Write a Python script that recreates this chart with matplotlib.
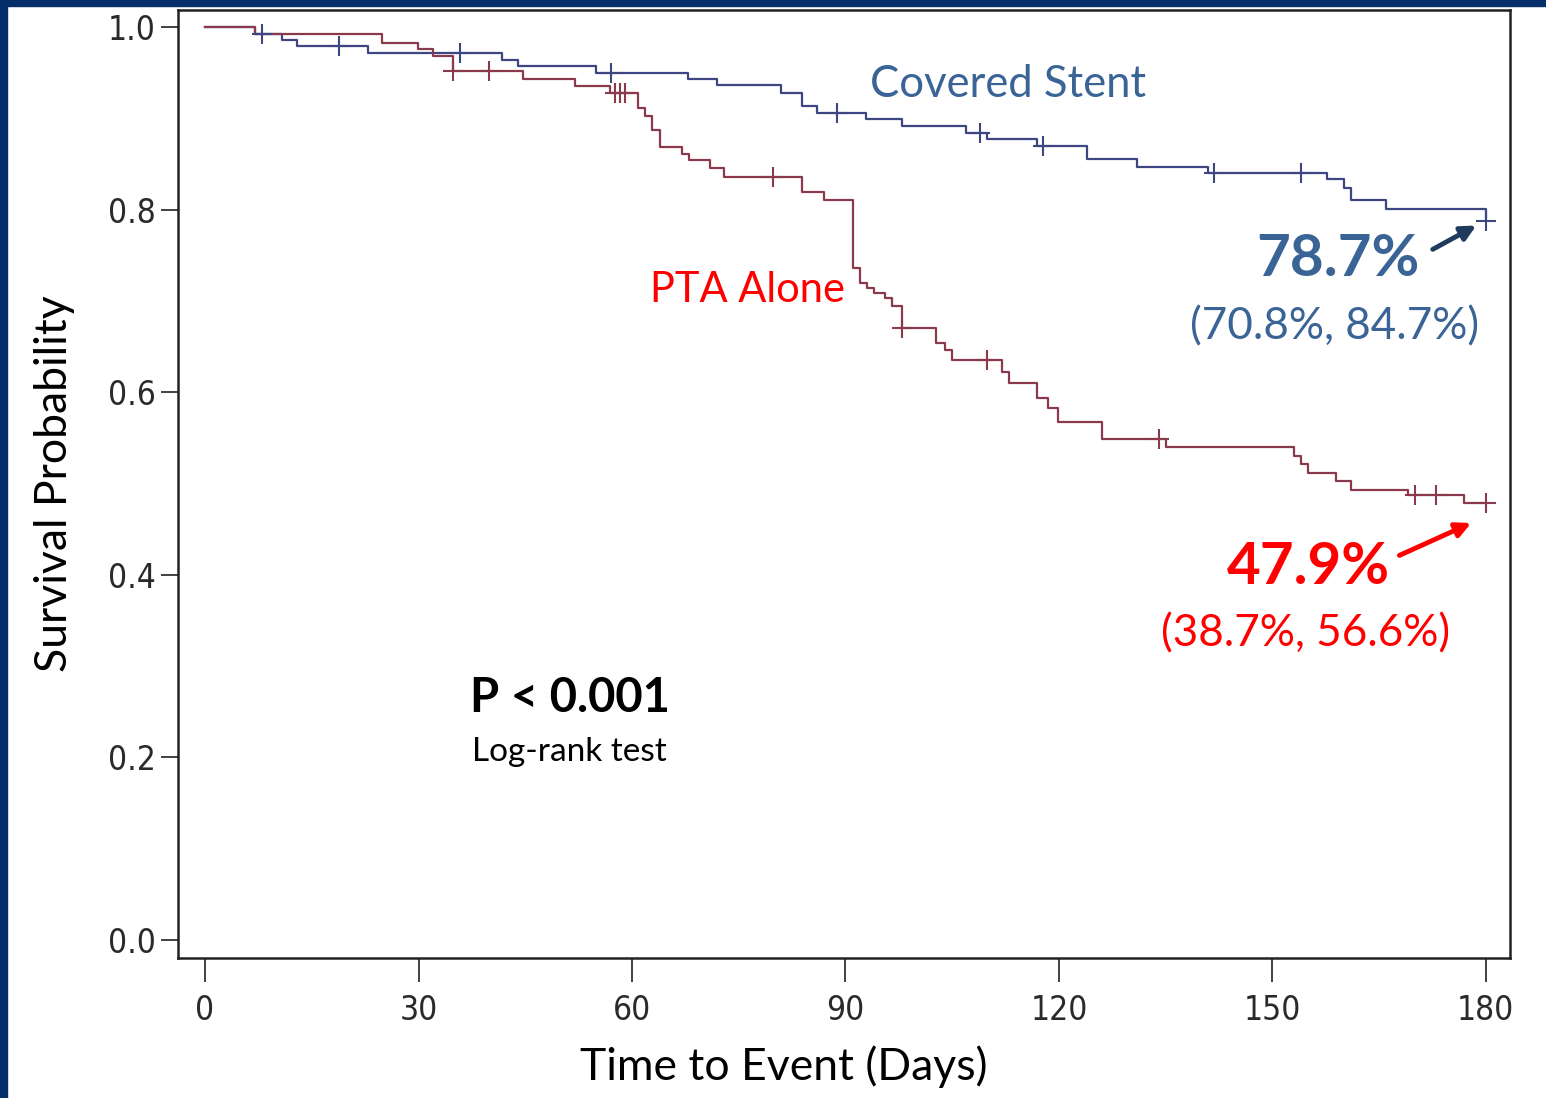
'''
    Kaplan-Meier curves: covered stent vs PTA alone
'''

import matplotlib
matplotlib.use('Agg')
import matplotlib.pyplot as plt
from matplotlib.patches import Rectangle

# Covered stent: event times (days) and survival after each step
stent_t = [0, 7, 10.8, 12.9, 22.9, 41.7, 44, 55, 67.9, 71.9, 81, 83.9, 86,
           92.9, 98, 107, 109.9, 116.9, 124, 131, 141, 157.7, 160, 161, 166, 180]
stent_s = [1.0, 0.992, 0.986, 0.979, 0.971, 0.964, 0.957, 0.950, 0.943, 0.936,
           0.928, 0.913, 0.906, 0.899, 0.892, 0.884, 0.877, 0.870, 0.855, 0.847,
           0.840, 0.833, 0.824, 0.810, 0.801, 0.787]
stent_cens_t = [8, 18.8, 35.8, 57, 88.8, 108.9, 117.8, 141.8, 154, 180]
stent_cens_s = [0.992, 0.979, 0.971, 0.950, 0.906, 0.884, 0.870, 0.840, 0.840, 0.787]

# PTA alone
pta_t = [0, 7, 24.9, 29.9, 32, 34.9, 44.7, 52, 56.9, 60.8, 61.8, 62.8, 64, 67,
         68, 71, 73, 83.9, 87, 91, 92, 93, 94, 95.5, 96.5, 98, 102.8, 104, 105,
         112, 113, 116.9, 118.5, 119.9, 126, 135, 153, 154, 155, 159, 161, 169,
         177, 180]
pta_s = [1.0, 0.992, 0.983, 0.976, 0.968, 0.952, 0.943, 0.935, 0.928, 0.911,
         0.902, 0.887, 0.869, 0.861, 0.854, 0.846, 0.836, 0.819, 0.811, 0.736,
         0.720, 0.714, 0.709, 0.703, 0.694, 0.670, 0.654, 0.646, 0.635, 0.622,
         0.610, 0.594, 0.583, 0.567, 0.549, 0.540, 0.530, 0.521, 0.512, 0.503,
         0.493, 0.487, 0.479, 0.479]
pta_cens_t = [34.9, 39.9, 57.6, 58.3, 59, 79.8, 98, 109.9, 134, 170, 173, 180]
pta_cens_s = [0.952, 0.952, 0.928, 0.928, 0.928, 0.836, 0.670, 0.635, 0.549,
              0.487, 0.487, 0.479]

xticks = [0, 30, 60, 90, 120, 150, 180]
yticks = [0.0, 0.2, 0.4, 0.6, 0.8, 1.0]

NAVY = '#052f68'
STEEL = '#3a6496'
RED = '#ff0000'
BLUE_LINE = '#3d4680'
RED_LINE = '#8a3a4c'
TEXT_FONT = ['Lato', 'DejaVu Sans']

fig = plt.figure(figsize=(15.46, 10.98), dpi=100)
fig.patches.append(Rectangle((0, 1 - 6/1098), 1, 6/1098, transform=fig.transFigure,
                             color=NAVY, zorder=0))
fig.patches.append(Rectangle((0, 0), 7/1546, 1, transform=fig.transFigure,
                             color=NAVY, zorder=0))

ax = fig.add_axes([178/1546, 1 - 958/1098, (1510 - 178)/1546, (958 - 10)/1098])
ax.step(stent_t, stent_s, where='post', color=BLUE_LINE, lw=1.6)
ax.step(pta_t, pta_s, where='post', color=RED_LINE, lw=1.6)
ax.plot(stent_cens_t, stent_cens_s, '+', color=BLUE_LINE, ms=14, mew=1.5)
ax.plot(pta_cens_t, pta_cens_s, '+', color=RED_LINE, ms=14, mew=1.5)

ax.set_xlim(-3.8, 183.4)
ax.set_ylim(-0.0197, 1.0186)
ax.set_xticks(xticks)
ax.set_yticks(yticks)
ax.set_xticklabels([str(v) for v in xticks], family='DejaVu Sans', stretch='condensed',
                   fontsize=24, color='#2a2a2a')
ax.set_yticklabels(['%.1f' % v for v in yticks], family='DejaVu Sans', stretch='condensed',
                   fontsize=24, color='#2a2a2a')
ax.tick_params(axis='x', length=17, width=1.3, pad=9, color='#333333')
ax.tick_params(axis='y', length=12, width=1.3, pad=4, color='#333333')
for sp in ax.spines.values():
    sp.set_linewidth(1.8)
    sp.set_color('#222222')

ax.set_ylabel('Survival Probability', family=TEXT_FONT, fontsize=32)
ax.yaxis.set_label_coords((55 - 178)/1332, 0.5)
ax.set_xlabel('Time to Event (Days)', family=TEXT_FONT, fontsize=32)
ax.xaxis.set_label_coords((784 - 178)/1332, -(1067 - 958)/948)
ax.xaxis.label.set_va('center')
ax.yaxis.label.set_va('center')

ax.text(93.5, 0.937, 'Covered Stent', family=TEXT_FONT, fontsize=31.4, color=STEEL,
        va='center', ha='left')
ax.text(62.5, 0.712, 'PTA Alone', family=TEXT_FONT, fontsize=30, color=RED,
        va='center', ha='left')
ax.text(159.2, 0.745, '78.7%', family=TEXT_FONT, fontsize=42, fontweight='bold',
        color=STEEL, va='center', ha='center')
ax.text(158.8, 0.672, '(70.8%, 84.7%)', family=TEXT_FONT, fontsize=31.7, color=STEEL,
        va='center', ha='center')
ax.text(155.0, 0.408, '47.9%', family=TEXT_FONT, fontsize=42, fontweight='bold',
        color=RED, va='center', ha='center')
ax.text(154.6, 0.335, '(38.7%, 56.6%)', family=TEXT_FONT, fontsize=31.7, color=RED,
        va='center', ha='center')
ax.text(37.2, 0.265, 'P < 0.001', family=TEXT_FONT, fontsize=34, fontweight='bold',
        color='black', va='center', ha='left')
ax.text(37.5, 0.206, 'Log-rank test', family=TEXT_FONT, fontsize=24,
        color='black', va='center', ha='left')

ax.annotate('', xy=(179.0, 0.784), xytext=(172.2, 0.755),
            arrowprops=dict(arrowstyle='-|>', color='#1f3b5e', lw=3.5,
                            mutation_scale=22))
ax.annotate('', xy=(178.3, 0.458), xytext=(167.5, 0.420),
            arrowprops=dict(arrowstyle='-|>', color=RED, lw=3.5,
                            mutation_scale=22))

fig.savefig('out.png', dpi=100)
